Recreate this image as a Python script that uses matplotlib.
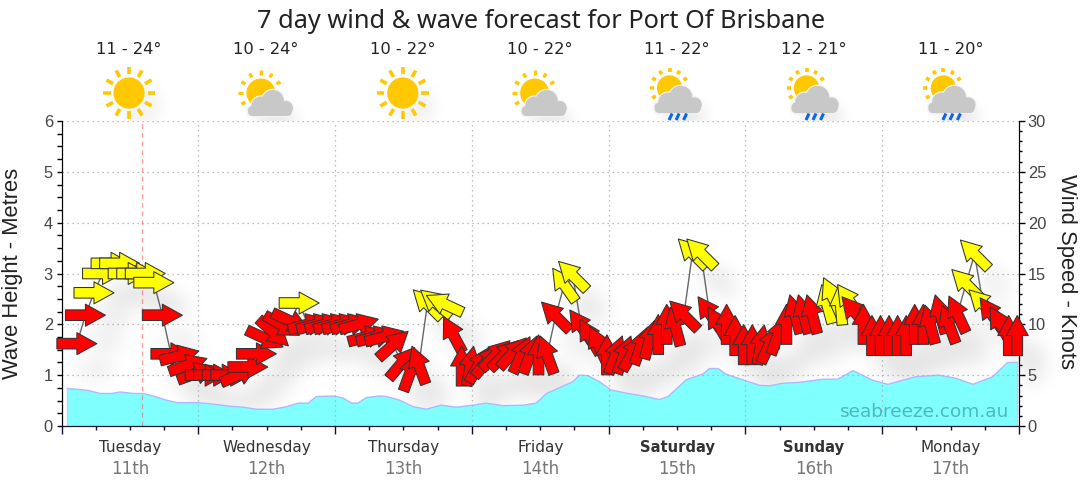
import numpy as np
from matplotlib import pyplot as plt
from matplotlib.collections import PathCollection
from matplotlib.patches import Circle, Ellipse, FancyBboxPatch
from matplotlib.path import Path
from matplotlib.ticker import MultipleLocator
from matplotlib.transforms import Affine2D, IdentityTransform

plt.rcParams['font.family'] = ['DejaVu Sans']

# data
days = ['Tuesday', 'Wednesday', 'Thursday', 'Friday', 'Saturday', 'Sunday', 'Monday']
dates = ['11th', '12th', '13th', '14th', '15th', '16th', '17th']
temps = ['11 - 24°', '10 - 24°', '10 - 22°', '10 - 22°', '11 - 22°', '12 - 21°', '11 - 20°']
icons = ['sun', 'cloud', 'sun', 'cloud', 'rain', 'rain', 'rain']
bold_days = ['Saturday', 'Sunday']
now_hour = 14.2

wave_hours = [1.0, 2.95, 4.7, 6.75, 8.8, 10.3, 12.6, 14.3, 16.1, 18.4, 20.2, 23.7, 26.0, 29.5, 31.9,
              34.2, 37.1, 39.5, 41.5, 43.3, 44.7, 47.7, 49.4, 50.9, 52.0, 53.5, 55.8, 57.0, 59.3,
              61.7, 64.0, 66.6, 69.3, 72.2, 74.5, 77.5, 81.0, 83.3, 85.1, 87.7, 89.7, 90.9, 92.4,
              94.4, 96.4, 99.4, 102.6, 104.9, 106.4, 108.1, 109.6, 112.5, 113.7, 115.2, 116.6,
              119.8, 122.5, 124.2, 126.5, 129.5, 133.6, 136.2, 138.9, 142.3, 145.0, 147.6, 149.9,
              154.0, 156.9, 159.9, 163.4, 166.0, 167.7]
wave_height = [.74, .72, .70, .64, .64, .67, .64, .64, .59, .51, .46, .46, .44, .39, .37,
               .33, .33, .38, .45, .45, .58, .59, .55, .45, .45, .56, .59, .58, .51,
               .38, .33, .41, .37, .41, .45, .40, .41, .45, .64, .77, .87, 1.0, .99,
               .87, .71, .64, .58, .52, .58, .75, .91, 1.02, 1.13, 1.13, 1.02,
               .90, .80, .79, .84, .86, .92, .92, 1.09, .90, .82, .90, .97,
               1.0, .94, .82, .97, 1.25, 1.25]

wind_hours = [2.7, 4.2, 5.7, 7.2, 8.7, 10.2, 11.7, 13.2, 14.7, 16.2, 17.7, 19.2, 20.7, 22.2, 23.7, 25.2,
              26.7, 28.2, 29.7, 31.2, 32.7, 34.2, 35.7, 37.2, 38.7, 40.2, 41.7, 43.2, 44.7, 46.2, 47.7, 49.2,
              50.7, 52.2, 53.7, 55.2, 56.7, 58.2, 59.7, 61.2, 62.7, 64.2, 65.7, 67.2, 68.7, 70.2, 71.7, 73.2,
              74.7, 76.2, 77.7, 79.2, 80.7, 82.2, 83.7, 85.2, 86.7, 88.2, 89.7, 91.2, 92.7, 94.2, 95.7, 97.2,
              98.7, 100.2, 101.7, 103.2, 104.7, 106.2, 107.7, 109.2, 110.7, 112.2, 113.7, 115.2, 116.7, 118.2, 119.7, 121.2,
              122.7, 124.2, 125.7, 127.2, 128.7, 130.2, 131.7, 134.3, 135.2, 136.7, 138.2, 139.2, 140.7, 142.2, 143.7, 145.2,
              146.7, 148.2, 149.7, 151.2, 152.4, 154.2, 155.7, 157.2, 158.7, 160.2, 161.7, 163.2, 164.7, 166.2, 167.7]
wind_speed = [8.1, 10.9, 13.1, 15, 16, 16, 15, 15, 15, 14.1, 10.9, 7.1, 6.9, 6, 5.2, 5,
              5, 5, 5, 5.1, 5.8, 7.1, 8.6, 9.2, 9.9, 10.3, 12.1, 10, 10, 10, 10, 10,
              10, 10, 8.8, 8.8, 8.8, 8, 6.2, 5.3, 6, 12, 12.1, 12, 9, 5.9, 5.9, 6,
              6.4, 7, 7, 7.2, 7, 7, 7, 7, 10.8, 13.9, 14.8, 9.8, 8.8, 8, 7, 7,
              7, 7.2, 7.9, 8.5, 9, 10, 9.8, 10.9, 17, 17, 11.1, 10, 10, 8.9, 8, 8,
              8, 8, 8.9, 10, 11, 11, 11, 12, 12.8, 11.9, 12.3, 11.2, 10, 8.9, 8.9, 8.9,
              8.9, 8.9, 10, 10, 10, 11, 10, 11, 14, 16.9, 12, 11, 10, 8.9, 8.9]
wind_angle = [0, 0, 0, 0, 0, 0, 0, 0, 0, 0, 0, 0, 14, 19, 20, 0,
              0, 0, 0, 25, 0, 0, -25, -42, -30, -25, 0, 15, 15, 15, 15, 15,
              15, 15, 15, 15, 15, 42, 50, 70, 110, 135, 140, 155, 118, 90, 80, 60,
              50, 45, 45, 48, 65, 70, 90, 110, 135, 125, 135, 125, 120, 115, 90, 70,
              70, 60, 70, 75, 90, 90, 105, 135, 135, 135, 125, 120, 90, 90, 90, 90,
              80, 65, 70, 90, 105, 105, 105, 105, 115, 95, 125, 130, 90, 90, 90, 90,
              90, 90, 90, 90, 105, 105, 110, 115, 135, 135, 135, 125, 120, 90, 90]
yellow_from = 11.5


def blur_shadow(strength, sigma, dx, dy):
    # agg filter: blurred, offset copy of the alpha channel
    def process(im, dpi):
        pad = int(3 * sigma + max(dx, dy) + 2)
        a = np.pad(im[:, :, 3], pad)
        t = np.arange(-int(3 * sigma), int(3 * sigma) + 1)
        k = np.exp(-t**2 / (2.0 * sigma**2))
        k /= k.sum()
        a = np.apply_along_axis(np.convolve, 0, a, k, mode='same')
        a = np.apply_along_axis(np.convolve, 1, a, k, mode='same')
        a = np.roll(np.roll(a, dx, axis=1), dy, axis=0)
        out = np.zeros(a.shape + (4,))
        out[:, :, 3] = np.clip(a * strength, 0, 1)
        return out, -pad, -pad
    return process


def arrow_paths(angles):
    verts = [(-1, -.265), (0, -.265), (0, -.55), (1, 0), (0, .55), (0, .265), (-1, .265), (-1, -.265)]
    base = Path(verts, closed=True)
    return [base.transformed(Affine2D().rotate_deg(a)) for a in angles]


fig = plt.figure(figsize=(10.8, 4.9), dpi=100)

ax = fig.add_axes([61.5 / 1080, 64 / 490, 957.5 / 1080, 305 / 490])
ax2 = ax.twinx()
ax.set_xlim(0, 168)
ax.set_ylim(0, 6)
ax2.set_ylim(0, 30)
ax.set_zorder(1)
ax2.set_zorder(2)
ax2.patch.set_visible(False)

# shadow sits under the swell area
xy = np.column_stack([wind_hours, wind_speed])
size = 14.4**2
shadow = PathCollection(arrow_paths(wind_angle), sizes=[size], offsets=xy,
                        offset_transform=ax2.transData, facecolors='k', edgecolors='none',
                        transform=IdentityTransform(), zorder=1)
shadow.set_agg_filter(blur_shadow(0.33, 7, 10, 13))
ax.add_collection(shadow, autolim=False)
shadow.set_clip_on(False)

ax.fill_between(wave_hours, wave_height, color='#80ffff', edgecolor='none', zorder=2)
ax.plot(wave_hours, wave_height, color='#b0b8ff', lw=1.0, zorder=2.1)
ax.plot([wave_hours[0], wave_hours[0]], [0, wave_height[0]], color='#c8c8ff', lw=1.0, zorder=2.1)
ax.plot([wave_hours[-1], wave_hours[-1]], [0, wave_height[-1]], color='#c8c8ff', lw=1.0, zorder=2.1)

ax.axvline(now_hour, color='#ff5555', lw=0.9, ls=(0, (4, 3)), alpha=0.55, zorder=2.6)

ax.set_axisbelow(False)
ax.xaxis.set_major_locator(MultipleLocator(24))
ax.xaxis.set_minor_locator(MultipleLocator(6))
ax.yaxis.set_major_locator(MultipleLocator(1))
ax.yaxis.set_minor_locator(MultipleLocator(0.25))
ax2.yaxis.set_major_locator(MultipleLocator(5))
ax2.yaxis.set_minor_locator(MultipleLocator(1))
ax.grid(True, which='major', color='#aaaaaa', lw=0.9, ls=(0, (1, 3)))
fig.canvas.draw()
ax.yaxis.get_gridlines()[-1].set_visible(False)
ax.tick_params(axis='x', which='major', length=5.8, width=1, color='#111133', labelbottom=False)
ax.tick_params(axis='x', which='minor', length=2.9, width=1, color='#111133')
ax.tick_params(axis='y', which='major', length=3.6, width=1, labelsize=11.8, labelcolor='#444444', pad=2.6)
ax.tick_params(axis='y', which='minor', length=3.6, width=1)
ax2.tick_params(axis='y', which='major', length=4.3, width=1, labelsize=11.8, labelcolor='#444444', pad=2)
ax2.tick_params(axis='y', which='minor', length=2.5, width=1)
for lab in ax.get_yticklabels() + ax2.get_yticklabels():
    lab.set_family('Liberation Sans')
ax.set_ylabel('Wave Height - Metres', fontsize=15.8, color='#222222', family='Liberation Sans')
ax2.set_ylabel('Wind Speed - Knots', fontsize=15.8, color='#222222', rotation=270, family='Liberation Sans')
ax.yaxis.set_label_coords(-38 / 957.5, 0.5)
ax2.yaxis.set_label_coords(1 + 58 / 957.5, 0.508)
ax.spines['top'].set_visible(False)
ax2.spines['top'].set_visible(False)
ax.spines['bottom'].set_color('#111133')
ax2.spines['bottom'].set_color('#111133')

# wind series: thin line with arrows on top
ax2.plot(wind_hours, wind_speed, color='#666666', lw=1.0, zorder=3)
colors = ['#ffff00' if s > yellow_from else '#ff0000' for s in wind_speed]
arrows = PathCollection(arrow_paths(wind_angle), sizes=[size], offsets=xy,
                        offset_transform=ax2.transData, facecolors=colors, edgecolors='#333333',
                        linewidths=0.75, transform=IdentityTransform(), zorder=4)
ax2.add_collection(arrows, autolim=False)
arrows.set_clip_on(False)

ax2.text(0.9895, 0.0475, 'seabreeze.com.au', transform=ax2.transAxes, ha='right', va='center',
         fontsize=13.3, color='#4cb8c0', zorder=5)

trans = ax.get_xaxis_transform()
for i, (day, date) in enumerate(zip(days, dates)):
    weight = 'bold' if day in bold_days else 'normal'
    ax.text(12 + 24 * i, -0.069, day, transform=trans, ha='center', va='center',
            fontsize=10.6 if day in bold_days else 11, color='#333333', fontweight=weight)
    ax.text(12 + 24 * i, -0.141, date, transform=trans, ha='center', va='center', fontsize=12,
            color='#777777')

# header drawn on a figure-sized pixel axes behind the plot
top = fig.add_axes([0, 0, 1, 1], zorder=0)
top.set_xlim(0, 1080)
top.set_ylim(490, 0)
top.axis('off')
top.text(541, 21, '7 day wind & wave forecast for Port Of Brisbane', ha='center', va='center',
         fontsize=18.2, color='#222222', family='Noto Sans')

sun_colour = '#ffc800'
cloud_colour = '#c8c8c8'


def draw_rays(cx, cy, inner, outer, width, angles):
    for a in angles:
        ca, sa = np.cos(np.radians(a)), np.sin(np.radians(a))
        top.plot([cx + inner * ca, cx + outer * ca], [cy - inner * sa, cy - outer * sa],
                 color=sun_colour, lw=width, solid_capstyle='butt')


def draw_cloud(cx, cy, scale):
    # bumps relative to the cloud middle
    bumps = [(-9, 2, 9.5), (3, -3, 11), (16, 4, 7)]
    for halo, colour in ((1.2, '#f4f4f4'), (0, cloud_colour)):
        for bx, by, r in bumps:
            top.add_patch(Circle((cx + bx * scale, cy + by * scale), r * scale + halo, fc=colour, ec='none'))
        top.add_patch(FancyBboxPatch((cx - 22 * scale - halo, cy + 2 * scale - halo), 44 * scale + 2 * halo,
                                     10 * scale + 2 * halo, boxstyle='round,pad=0,rounding_size=%.1f' % (5 * scale),
                                     fc=colour, ec='none'))


for i, kind in enumerate(icons):
    x0 = 129 + 136.9 * i
    top.text(x0, 50, temps[i], ha='center', va='center', fontsize=11.7, color='#222222')
    if kind == 'sun':
        blob = Ellipse((x0 + 6, 100), 42, 42, fc='k', ec='none')
        blob.set_agg_filter(blur_shadow(0.05, 7, 6, 6))
        top.add_patch(blob)
        draw_rays(x0, 93, 18.5, 26, 2.6, range(0, 360, 30))
        top.add_patch(Circle((x0, 93), 15.6, fc=sun_colour, ec='none'))
    elif kind == 'cloud':
        blob = Ellipse((x0 + 8, 112), 44, 20, fc='k', ec='none')
        blob.set_agg_filter(blur_shadow(0.09, 7, 2, 7))
        top.add_patch(blob)
        draw_rays(x0 - 5, 93, 18, 22.5, 2.4, range(30, 240, 30))
        top.add_patch(Circle((x0 - 5, 93), 14.5, fc=sun_colour, ec='none'))
        draw_cloud(x0 + 4, 104, 1.0)
    else:
        blob = Ellipse((x0 + 6, 108), 44, 22, fc='k', ec='none')
        blob.set_agg_filter(blur_shadow(0.09, 7, 2, 7))
        top.add_patch(blob)
        draw_rays(x0 - 7, 88, 16, 20, 2.6, range(30, 240, 30))
        top.add_patch(Circle((x0 - 7, 88), 12.7, fc=sun_colour, ec='none'))
        draw_cloud(x0 + 1, 100.5, 1.05)
        for dx in (-6, 1, 8.5):
            top.plot([x0 + dx + 1.5, x0 + dx - 1.5], [113.5, 120], color='#0a64f0', lw=2.2, solid_capstyle='butt')

fig.savefig('out.png', dpi=100)
